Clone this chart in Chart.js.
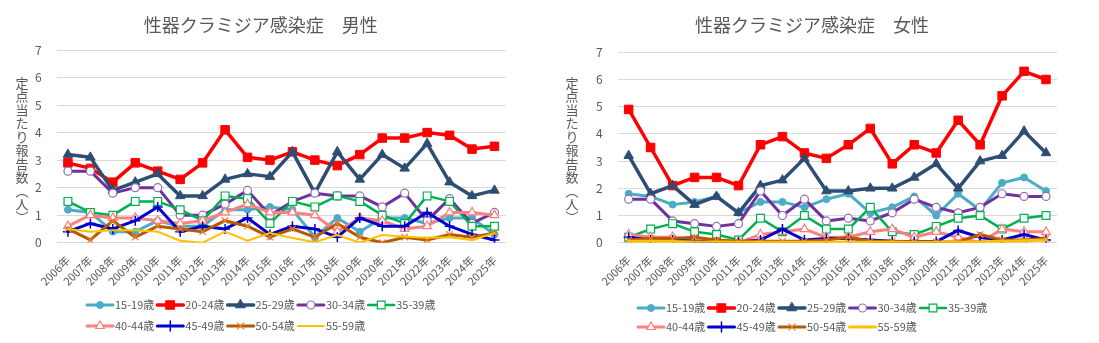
<!DOCTYPE html>
<html lang="ja">
<head>
<meta charset="utf-8">
<title>性器クラミジア感染症</title>
<script src="https://cdn.jsdelivr.net/npm/chart.js@4.4.1/dist/chart.umd.min.js"></script>
<style>
  html, body { margin: 0; padding: 0; background: #fff; }
  .charts { display: flex; width: 1099px; height: 343px; }
  .box { position: relative; height: 343px; }
  .box.male { width: 550px; }
  .box.female { width: 549px; }
</style>
</head>
<body>
<div class="charts">
  <div class="box male"><canvas id="maleChart"></canvas></div>
  <div class="box female"><canvas id="femaleChart"></canvas></div>
</div>
<script>
const years = ['2006年', '2007年', '2008年', '2009年', '2010年', '2011年', '2012年', '2013年', '2014年', '2015年',
               '2016年', '2017年', '2018年', '2019年', '2020年', '2021年', '2022年', '2023年', '2024年', '2025年'];
const ageGroups = ['15-19歳', '20-24歳', '25-29歳', '30-34歳', '35-39歳', '40-44歳', '45-49歳', '50-54歳', '55-59歳'];
const yTickValues = [0, 1, 2, 3, 4, 5, 6, 7];
const yAxisTitle = '定点当たり報告数（人）';

// 男性
const male1519 = [1.2, 1.1, 0.4, 0.4, 0.8, 0.6, 0.6, 1.2, 1.2, 1.3, 1.2, 0.2, 0.9, 0.4, 0.9, 0.9, 0.7, 0.9, 0.9, 0.3];
const male2024 = [2.9, 2.7, 2.2, 2.9, 2.6, 2.3, 2.9, 4.1, 3.1, 3.0, 3.3, 3.0, 2.8, 3.2, 3.8, 3.8, 4.0, 3.9, 3.4, 3.5];
const male2529 = [3.2, 3.1, 1.9, 2.2, 2.5, 1.7, 1.7, 2.3, 2.5, 2.4, 3.3, 1.8, 3.3, 2.3, 3.2, 2.7, 3.6, 2.2, 1.7, 1.9];
const male3034 = [2.6, 2.6, 1.8, 2.0, 2.0, 1.0, 1.0, 1.4, 1.9, 1.0, 1.5, 1.8, 1.7, 1.7, 1.3, 1.8, 0.8, 1.6, 0.7, 1.1];
const male3539 = [1.5, 1.1, 1.0, 1.5, 1.5, 1.2, 0.8, 1.7, 1.6, 0.7, 1.5, 1.3, 1.7, 1.5, 1.0, 0.7, 1.7, 1.5, 0.6, 0.6];
const male4044 = [0.6, 1.0, 0.9, 0.9, 0.8, 0.7, 0.8, 1.1, 1.4, 1.1, 1.1, 1.0, 0.4, 0.9, 0.8, 0.5, 0.6, 1.1, 1.1, 1.0];
const male4549 = [0.4, 0.7, 0.5, 0.8, 1.3, 0.4, 0.6, 0.5, 0.9, 0.3, 0.6, 0.5, 0.2, 0.9, 0.6, 0.6, 1.1, 0.6, 0.3, 0.1];
const male5054 = [0.5, 0.1, 0.8, 0.2, 0.6, 0.5, 0.4, 0.8, 0.6, 0.2, 0.5, 0.2, 0.7, 0.2, 0.0, 0.2, 0.1, 0.3, 0.2, 0.35];
const male5559 = [0.5, 0.4, 0.45, 0.45, 0.4, 0.07, 0.0, 0.4, 0.07, 0.35, 0.17, 0.02, 0.28, 0.0, 0.28, 0.22, 0.18, 0.2, 0.1, 0.35];

// 女性
const female1519 = [1.8, 1.7, 1.4, 1.5, 1.7, 1.1, 1.5, 1.5, 1.3, 1.6, 1.8, 1.1, 1.3, 1.7, 1.0, 1.8, 1.2, 2.2, 2.4, 1.9];
const female2024 = [4.9, 3.5, 2.1, 2.4, 2.4, 2.1, 3.6, 3.9, 3.3, 3.1, 3.6, 4.2, 2.9, 3.6, 3.3, 4.5, 3.6, 5.4, 6.3, 6.0];
const female2529 = [3.2, 1.8, 2.1, 1.4, 1.7, 1.1, 2.1, 2.3, 3.1, 1.9, 1.9, 2.0, 2.0, 2.4, 2.9, 2.0, 3.0, 3.2, 4.1, 3.3];
const female3034 = [1.6, 1.6, 0.8, 0.7, 0.6, 0.7, 1.9, 1.0, 1.6, 0.8, 0.9, 0.8, 1.1, 1.6, 1.3, 1.1, 1.3, 1.8, 1.7, 1.7];
const female3539 = [0.2, 0.5, 0.7, 0.4, 0.3, 0.1, 0.9, 0.4, 1.0, 0.5, 0.5, 1.3, 0.4, 0.3, 0.6, 0.9, 1.0, 0.5, 0.9, 1.0];
const female4044 = [0.3, 0.2, 0.2, 0.1, 0.0, 0.0, 0.3, 0.4, 0.5, 0.2, 0.2, 0.4, 0.5, 0.2, 0.4, 0.2, 0.0, 0.5, 0.4, 0.4];
const female4549 = [0.2, 0.1, 0.1, 0.05, 0.03, 0.03, 0.1, 0.5, 0.1, 0.15, 0.15, 0.1, 0.05, 0.04, 0.04, 0.45, 0.2, 0.1, 0.3, 0.1];
const female5054 = [0.1, 0.15, 0.15, 0.2, 0.1, 0.05, 0.05, 0.05, 0.05, 0.1, 0.2, 0.05, 0.05, 0.03, 0.03, 0.03, 0.3, 0.1, 0.1, 0.15];
const female5559 = [0.05, 0.05, 0.04, 0.03, 0.03, 0.02, 0.02, 0.02, 0.02, 0.02, 0.02, 0.02, 0.02, 0.02, 0.02, 0.02, 0.03, 0.05, 0.07, 0.1];

const maleSeries = [male1519, male2024, male2529, male3034, male3539, male4044, male4549, male5054, male5559];
const femaleSeries = [female1519, female2024, female2529, female3034, female3539, female4044, female4549, female5054, female5559];

const FONT = '"Noto Sans CJK JP", "Noto Sans", sans-serif';
const TEXT = '#595959';

// line / marker look per age group (Excel-like)
const seriesStyles = [
    { color: '#4bacc6', width: 3,   point: 'circle',   radius: 3.5, fill: '#4bacc6', stroke: '#4bacc6', pw: 1 },
    { color: '#ff0000', width: 3.5, point: 'rect',     radius: 6,   fill: '#ff0000', stroke: '#ff0000', pw: 1 },
    { color: '#2e4d74', width: 3.5, point: 'triangle', radius: 5.5, fill: '#2e4d74', stroke: '#2e4d74', pw: 1 },
    { color: '#7030a0', width: 3,   point: 'circle',   radius: 4,   fill: '#ffffff', stroke: '#8e6fb5', pw: 1.2 },
    { color: '#00b050', width: 2.5, point: 'rect',     radius: 5.5, fill: '#ffffff', stroke: '#00b050', pw: 1.2 },
    { color: '#ff8080', width: 3,   point: 'triangle', radius: 5,   fill: '#ffffff', stroke: '#ff7c80', pw: 1.2 },
    { color: '#0000cc', width: 3,   point: 'cross',    radius: 5,   fill: '#0000cc', stroke: '#0000cc', pw: 1.5 },
    { color: '#b35900', width: 3,   point: 'crossRot', radius: 4.5, fill: '#ed7d31', stroke: '#ed7d31', pw: 1.2 },
    { color: '#ffc000', width: 2,   point: false,      radius: 0,   fill: '#ffc000', stroke: '#ffc000', pw: 0 }
];

// legend drawn as line sample + marker, Excel style grid (5 per row)
const ageLegend = {
    id: 'ageLegend',
    afterDraw(chart, args, opts) {
        const ctx = chart.ctx;
        ctx.save();
        ctx.font = '11px ' + FONT;
        ctx.textBaseline = 'middle';
        ctx.textAlign = 'left';
        ageGroups.forEach((name, i) => {
            const ds = chart.data.datasets[i];
            const x = opts.x0 + (i % opts.perRow) * opts.colW;
            const y = opts.rows[Math.floor(i / opts.perRow)];
            ctx.strokeStyle = ds.borderColor;
            ctx.lineWidth = ds.borderWidth;
            ctx.lineCap = 'round';
            ctx.beginPath();
            ctx.moveTo(x, y);
            ctx.lineTo(x + 26, y);
            ctx.stroke();
            if (ds.pointStyle) {
                ctx.fillStyle = ds.pointBackgroundColor;
                ctx.strokeStyle = ds.pointBorderColor;
                ctx.lineWidth = ds.pointBorderWidth;
                Chart.helpers.drawPoint(ctx, {
                    pointStyle: ds.pointStyle, radius: ds.pointRadius, rotation: 0, borderWidth: ds.pointBorderWidth
                }, x + 13, y);
            }
            ctx.fillStyle = TEXT;
            ctx.fillText(name, x + 28, y);
        });
        ctx.restore();
    }
};

// y axis title written top-to-bottom with upright characters
const yTitleVertical = {
    id: 'yTitleVertical',
    afterDraw(chart, args, opts) {
        const ctx = chart.ctx;
        const chars = [...yAxisTitle.replace('（', '︵').replace('）', '︶')];
        ctx.save();
        ctx.font = '13px ' + FONT;
        ctx.fillStyle = TEXT;
        ctx.textAlign = 'center';
        ctx.textBaseline = 'middle';
        chars.forEach((ch, i) => ctx.fillText(ch, opts.x, opts.y0 + i * opts.step));
        ctx.restore();
    }
};

function makeChart(id, title, series, lay) {
    const datasets = series.map((data, i) => {
        const s = seriesStyles[i];
        return {
            label: ageGroups[i],
            data: data,
            borderColor: s.color,
            backgroundColor: s.color,
            borderWidth: (i === 8 && lay.yellowWidth) ? lay.yellowWidth : s.width,
            borderCapStyle: 'round',
            borderJoinStyle: 'round',
            tension: 0,
            pointStyle: s.point,
            pointRadius: s.radius,
            pointHoverRadius: s.radius,
            pointBackgroundColor: s.fill,
            pointBorderColor: s.stroke,
            pointBorderWidth: s.pw,
            order: series.length - i   // later series drawn on top, like Excel
        };
    });

    return new Chart(document.getElementById(id), {
        type: 'line',
        data: { labels: years, datasets: datasets },
        plugins: [ageLegend, yTitleVertical],
        options: {
            responsive: true,
            maintainAspectRatio: false,
            animation: false,
            devicePixelRatio: 1,
            layout: { padding: { left: lay.padLeft, right: lay.padRight, top: 0, bottom: 55 } },
            plugins: {
                legend: { display: false },
                tooltip: { enabled: false },
                title: {
                    display: true,
                    text: title,
                    color: TEXT,
                    font: { family: FONT, size: 18, weight: 'normal', lineHeight: 1.2 },
                    padding: { top: 14.2, bottom: lay.titleBottom }
                },
                ageLegend: { x0: lay.legendX, colW: lay.legendColW, rows: lay.legendRows, perRow: 5 },
                yTitleVertical: { x: 22, y0: 83, step: 13.45 }
            },
            scales: {
                x: {
                    offset: true,
                    grid: { display: false },
                    border: { display: false },
                    ticks: {
                        color: TEXT,
                        font: { family: FONT, size: 11 },
                        autoSkip: false,
                        minRotation: 45,
                        maxRotation: 45,
                        padding: 3
                    },
                    afterFit(scale) { scale.height = 45.3; }
                },
                y: {
                    min: yTickValues[0],
                    max: yTickValues[yTickValues.length - 1],
                    grid: { color: '#d9d9d9', lineWidth: 1, drawTicks: false },
                    border: { display: false },
                    ticks: {
                        stepSize: 1,
                        color: TEXT,
                        font: { family: FONT, size: 12 },
                        padding: 15
                    },
                    afterFit(scale) { scale.width = lay.yWidth; }
                }
            }
        }
    });
}

makeChart('maleChart', '性器クラミジア感染症　男性', maleSeries, {
    padLeft: 16, padRight: 44.3, yWidth: 40.7, titleBottom: 14.2,
    legendX: 87, legendColW: 70.3, legendRows: [305, 326]
});

makeChart('femaleChart', '性器クラミジア感染症　女性', femaleSeries, {
    padLeft: 17, padRight: 42, yWidth: 50.7, titleBottom: 16.5, yellowWidth: 3,
    legendX: 88, legendColW: 70.5, legendRows: [308, 327]
});
</script>
</body>
</html>
